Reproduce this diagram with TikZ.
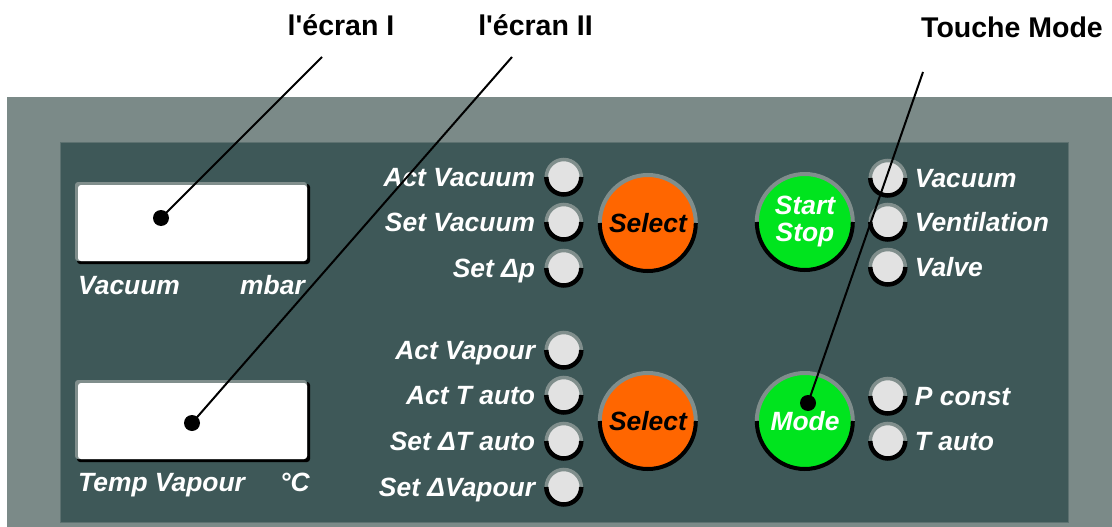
\documentclass[tikz,border=0pt]{standalone}
\usepackage{fontspec}
\setmainfont{Liberation Sans}
\usepackage{xcolor}
\usepackage{tikz}
\usetikzlibrary{positioning}

\definecolor{frame}{RGB}{123,138,136}
\definecolor{panel}{RGB}{62,88,88}
\definecolor{rim}{RGB}{128,142,140}
\definecolor{ledgray}{RGB}{226,226,226}
\definecolor{selorange}{RGB}{255,102,0}
\definecolor{keygreen}{RGB}{0,228,30}

\begin{document}
\begin{tikzpicture}[x=1pt,y=-1pt,
  led/.style={circle,fill=ledgray,minimum size=35pt,inner sep=0pt},
  key/.style={circle,minimum size=96pt,inner sep=0pt,align=center,
              font=\fontsize{26.4}{27}\selectfont\bfseries\itshape},
  tag/.style={text=white,inner xsep=0pt,inner ysep=0pt,text height=19pt,text depth=0pt,
              font=\fontsize{26.4}{30}\selectfont\bfseries\itshape},
  screen/.style={fill=white,rounded corners=3pt,minimum width=229pt,minimum height=76pt,inner sep=0pt},
  callout/.style={font=\fontsize{28.5}{32}\selectfont\bfseries,anchor=base,inner sep=0pt},
  rimtop/.style={draw=rim,line width=3.5pt},
  rimlow/.style={draw=black,line width=4.5pt},
  lead/.style={line width=2pt,draw=black},
  dot/.style={circle,fill=black,minimum size=16pt,inner sep=0pt}
]
\useasboundingbox (0,0) rectangle (1112,527);
\fill[white] (0,0) rectangle (1112,527);
\fill[frame] (7,97) rectangle (1112,527);
\filldraw[fill=panel,draw=frame!50!panel,line width=1pt] (60,142) rectangle (1068,522);

% displays
\foreach \n/\y in {scrI/223,scrII/421}{
  \node[screen,fill=black,minimum width=233pt,minimum height=80pt] at (193.5,\y+1) {};
  \node[screen,fill=rim,minimum width=232pt,minimum height=79pt] at (191,\y-1.5) {};
  \node[screen] (\n) at (192.5,\y) {};
}
\node[tag,anchor=base west] (vaclbl) at (78,294) {Vacuum};
\node[tag,anchor=base east] (mbarlbl) at (305,294) {mbar};
\node[tag,anchor=base west] (templbl) at (78,491) {Temp Vapour};
\node[tag,anchor=base east] (degclbl) at (310,491) {°C};

% LEDs, left column
\foreach \n/\y/\t in {actvac/177/Act Vacuum,setvac/222/Set Vacuum,setdp/268/Set Δp,
                      actvap/350/Act Vapour,acttauto/395/Act T auto,
                      setdtauto/441/Set ΔT auto,setdvap/487/Set ΔVapour}{
  \node[led] (\n) at (564,\y) {};
  \node[tag,left=11pt of \n] {\t};
}
% LEDs, right column
\foreach \n/\y/\t in {vac/178/Vacuum,vent/222/Ventilation,valve/267/Valve,
                      pconst/396/P const,tauto/441/T auto}{
  \node[led] (\n) at (888,\y) {};
  \node[tag,right=9pt of \n] {\t};
}
\foreach \n in {actvac,setvac,setdp,actvap,acttauto,setdtauto,setdvap,vac,vent,valve,pconst,tauto}{
  \draw[rimtop] (\n.west) arc[start angle=180,end angle=0,radius=17.5pt];
  \draw[rimlow] (\n.west) arc[start angle=180,end angle=360,radius=17.5pt];
}

% keys
\node[key,fill=selorange] (selvac) at (648,223) {Select};
\node[key,fill=selorange] (selvap) at (648,421) {Select};
\node[key,fill=keygreen,text=white] (startstop) at (805,222) {Start\\Stop};
\node[key,fill=keygreen,text=white] (mode) at (805,421) {Mode};
\foreach \n in {selvac,selvap,startstop,mode}{
  \draw[rimtop,line width=4pt] (\n.west) arc[start angle=180,end angle=0,radius=48pt];
  \draw[rimlow,line width=4pt] (\n.west) arc[start angle=180,end angle=360,radius=48pt];
}

% callouts
\node[callout] (calI) at (341,36) {l\textquotesingle écran I};
\node[callout] (calII) at (535.5,36) {l\textquotesingle écran II};
\node[callout] (calmode) at (1012,38) {Touche Mode};
\coordinate (tipI) at (322,57);
\coordinate (tipII) at (512,57);
\coordinate (tipmode) at (923,72);
\node[dot] (dotI) at (161,218) {};
\node[dot] (dotII) at (192,423) {};
\node[dot] (dotmode) at (808,403) {};
\draw[lead] (tipI)--(dotI.center);
\draw[lead] (tipII)--(dotII.center);
\draw[lead] (tipmode)--(dotmode.center);
\end{tikzpicture}
\end{document}
